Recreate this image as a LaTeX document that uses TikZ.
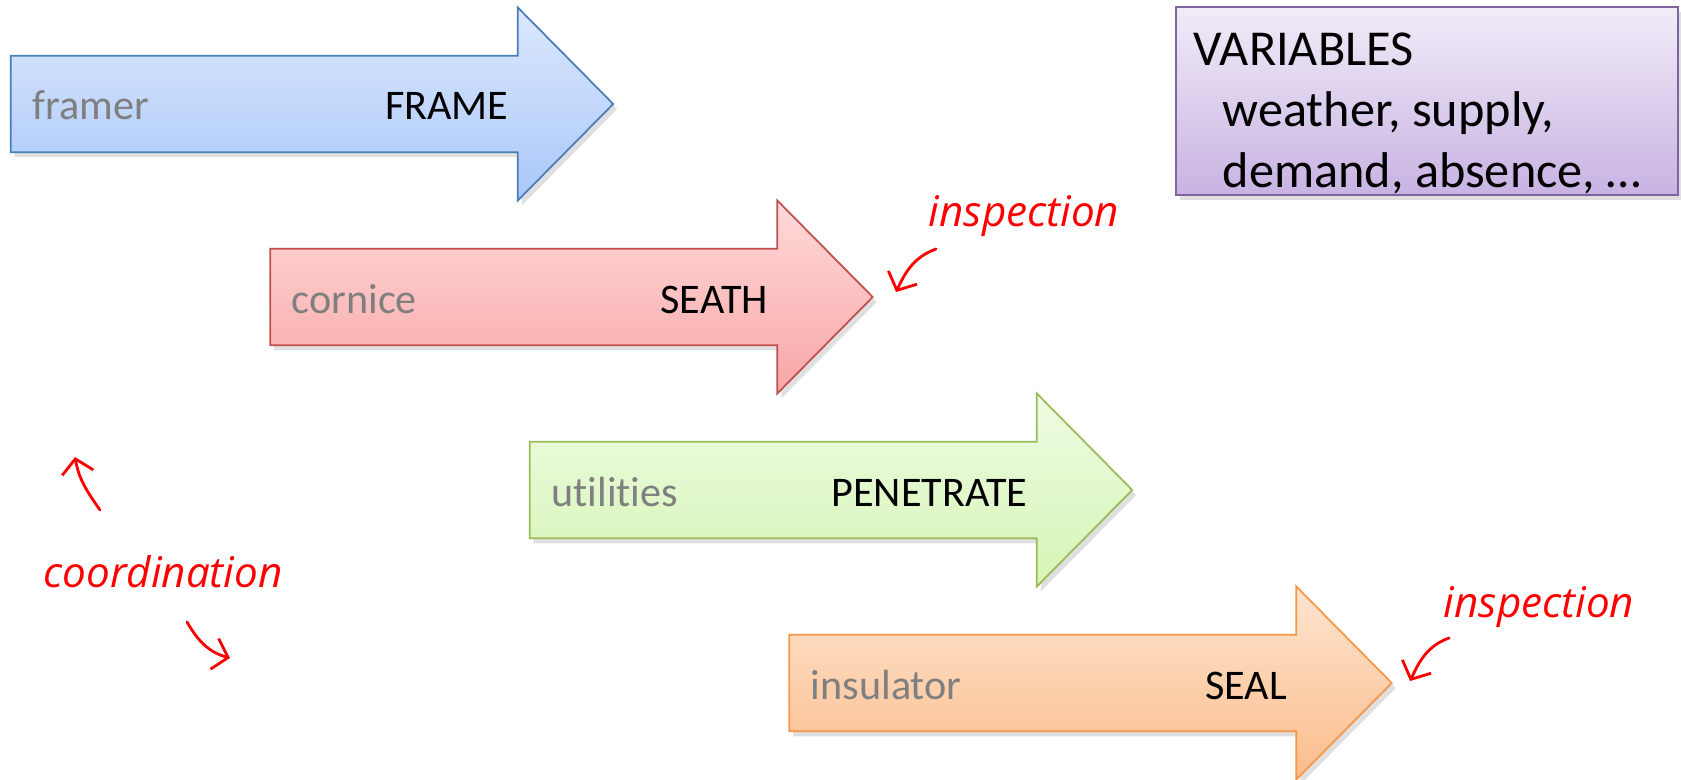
\documentclass[tikz,border=0pt]{standalone}
\usepackage{fontspec}
\setmainfont{Carlito}[Ligatures=NoCommon]
\newfontfamily\handfont{Open Sans}
\usetikzlibrary{arrows.meta,shadows}

\definecolor{frametop}{HTML}{DCE8FD}
\definecolor{framebot}{HTML}{A9C7F8}
\definecolor{frameline}{HTML}{4A7EBB}
\definecolor{seathtop}{HTML}{FFDADA}
\definecolor{seathbot}{HTML}{F8A6A6}
\definecolor{seathline}{HTML}{C0504D}
\definecolor{pentop}{HTML}{EEFBE2}
\definecolor{penbot}{HTML}{D6F5B6}
\definecolor{penline}{HTML}{9BBB59}
\definecolor{sealtop}{HTML}{FEE4CF}
\definecolor{sealbot}{HTML}{FBBD8C}
\definecolor{sealline}{HTML}{F79646}
\definecolor{vartop}{HTML}{F1ECF8}
\definecolor{varbot}{HTML}{C8B3E2}
\definecolor{varline}{HTML}{8064A2}
\definecolor{whogray}{HTML}{7F7F7F}

\tikzset{
  phase/.style={line width=0.5pt,
    drop shadow={opacity=0.25,shadow xshift=0.04cm,shadow yshift=-0.05cm}},
  framearrow/.style={phase,draw=frameline,top color=frametop,bottom color=framebot},
  seatharrow/.style={phase,draw=seathline,top color=seathtop,bottom color=seathbot},
  penarrow/.style={phase,draw=penline,top color=pentop,bottom color=penbot},
  sealarrow/.style={phase,draw=sealline,top color=sealtop,bottom color=sealbot},
  varbox/.style={phase,draw=varline,top color=vartop,bottom color=varbot,
    rectangle,minimum width=5.02cm,minimum height=1.875cm,inner sep=0pt},
  who/.style={text=whogray,anchor=base west,inner sep=0pt,font=\fontsize{12}{14}\selectfont},
  task/.style={anchor=base east,inner sep=0pt,font=\fontsize{12}{14}\selectfont},
  note/.style={text=red,font=\handfont\itshape\fontsize{12}{14}\selectfont},
  hand/.style={red,line width=0.8pt,line cap=round,
    -{Straight Barb[length=4pt,width=9pt]}}
}

\begin{document}
\begin{tikzpicture}
\useasboundingbox (0,0) rectangle (16.81,7.79);

% the four phase arrows
\foreach \x/\y/\s in {0.107/6.75/framearrow, 2.702/4.82/seatharrow,
                      5.297/2.89/penarrow, 7.892/0.96/sealarrow}
  \draw[\s] (\x,\y+0.4825) -- ++(5.071,0) -- ++(0,0.4825) -- ++(0.954,-0.965)
            -- ++(-0.954,-0.965) -- ++(0,0.4825) -- ++(-5.071,0) -- cycle;

\node[who] (framer) at (0.317,6.59) {framer};
\node[task] (frame) at (5.092,6.59) {FRAME};
\node[who] (cornice) at (2.912,4.66) {cornice};
\node[task] (seath) at (7.687,4.66) {SEATH};
\node[who] (utilities) at (5.507,2.73) {utilities};
\node[task] (penetrate) at (10.282,2.73) {PENETRATE};
\node[who] (insulator) at (8.102,0.80) {insulator};
\node[task] (seal) at (12.877,0.80) {SEAL};

% variables box
\node[varbox] (vars) at (14.27,6.78) {};
\node[anchor=north west,inner sep=0pt,align=left,
      font=\fontsize{14.3}{17.4}\selectfont] (varstext) at (11.93,7.47)
  {VARIABLES\\\hspace*{0.29cm}weather, supply,\\\hspace*{0.29cm}demand, absence, …};

% notes
\node[note] (insp1) at (10.24,5.63) {inspection};
\node[note] (insp2) at (15.39,1.72) {inspection};
\node[note] (coord) at (1.63,2.07) {coordination};

\coordinate (i1s) at (9.36,5.30);
\coordinate (i1e) at (8.96,4.87);
\coordinate (i2s) at (14.49,1.41);
\coordinate (i2e) at (14.10,0.98);
\coordinate (c1s) at (1.00,2.69);
\coordinate (c1e) at (0.75,3.22);
\coordinate (c2s) at (1.87,1.57);
\coordinate (c2e) at (2.30,1.21);

\draw[hand] (i1s) to[out=200,in=65] (i1e);
\draw[hand] (i2s) to[out=200,in=65] (i2e);
\draw[hand] (c1s) to[out=125,in=-80] (c1e);
\draw[hand] (c2s) to[out=-60,in=165] (c2e);
\end{tikzpicture}
\end{document}
